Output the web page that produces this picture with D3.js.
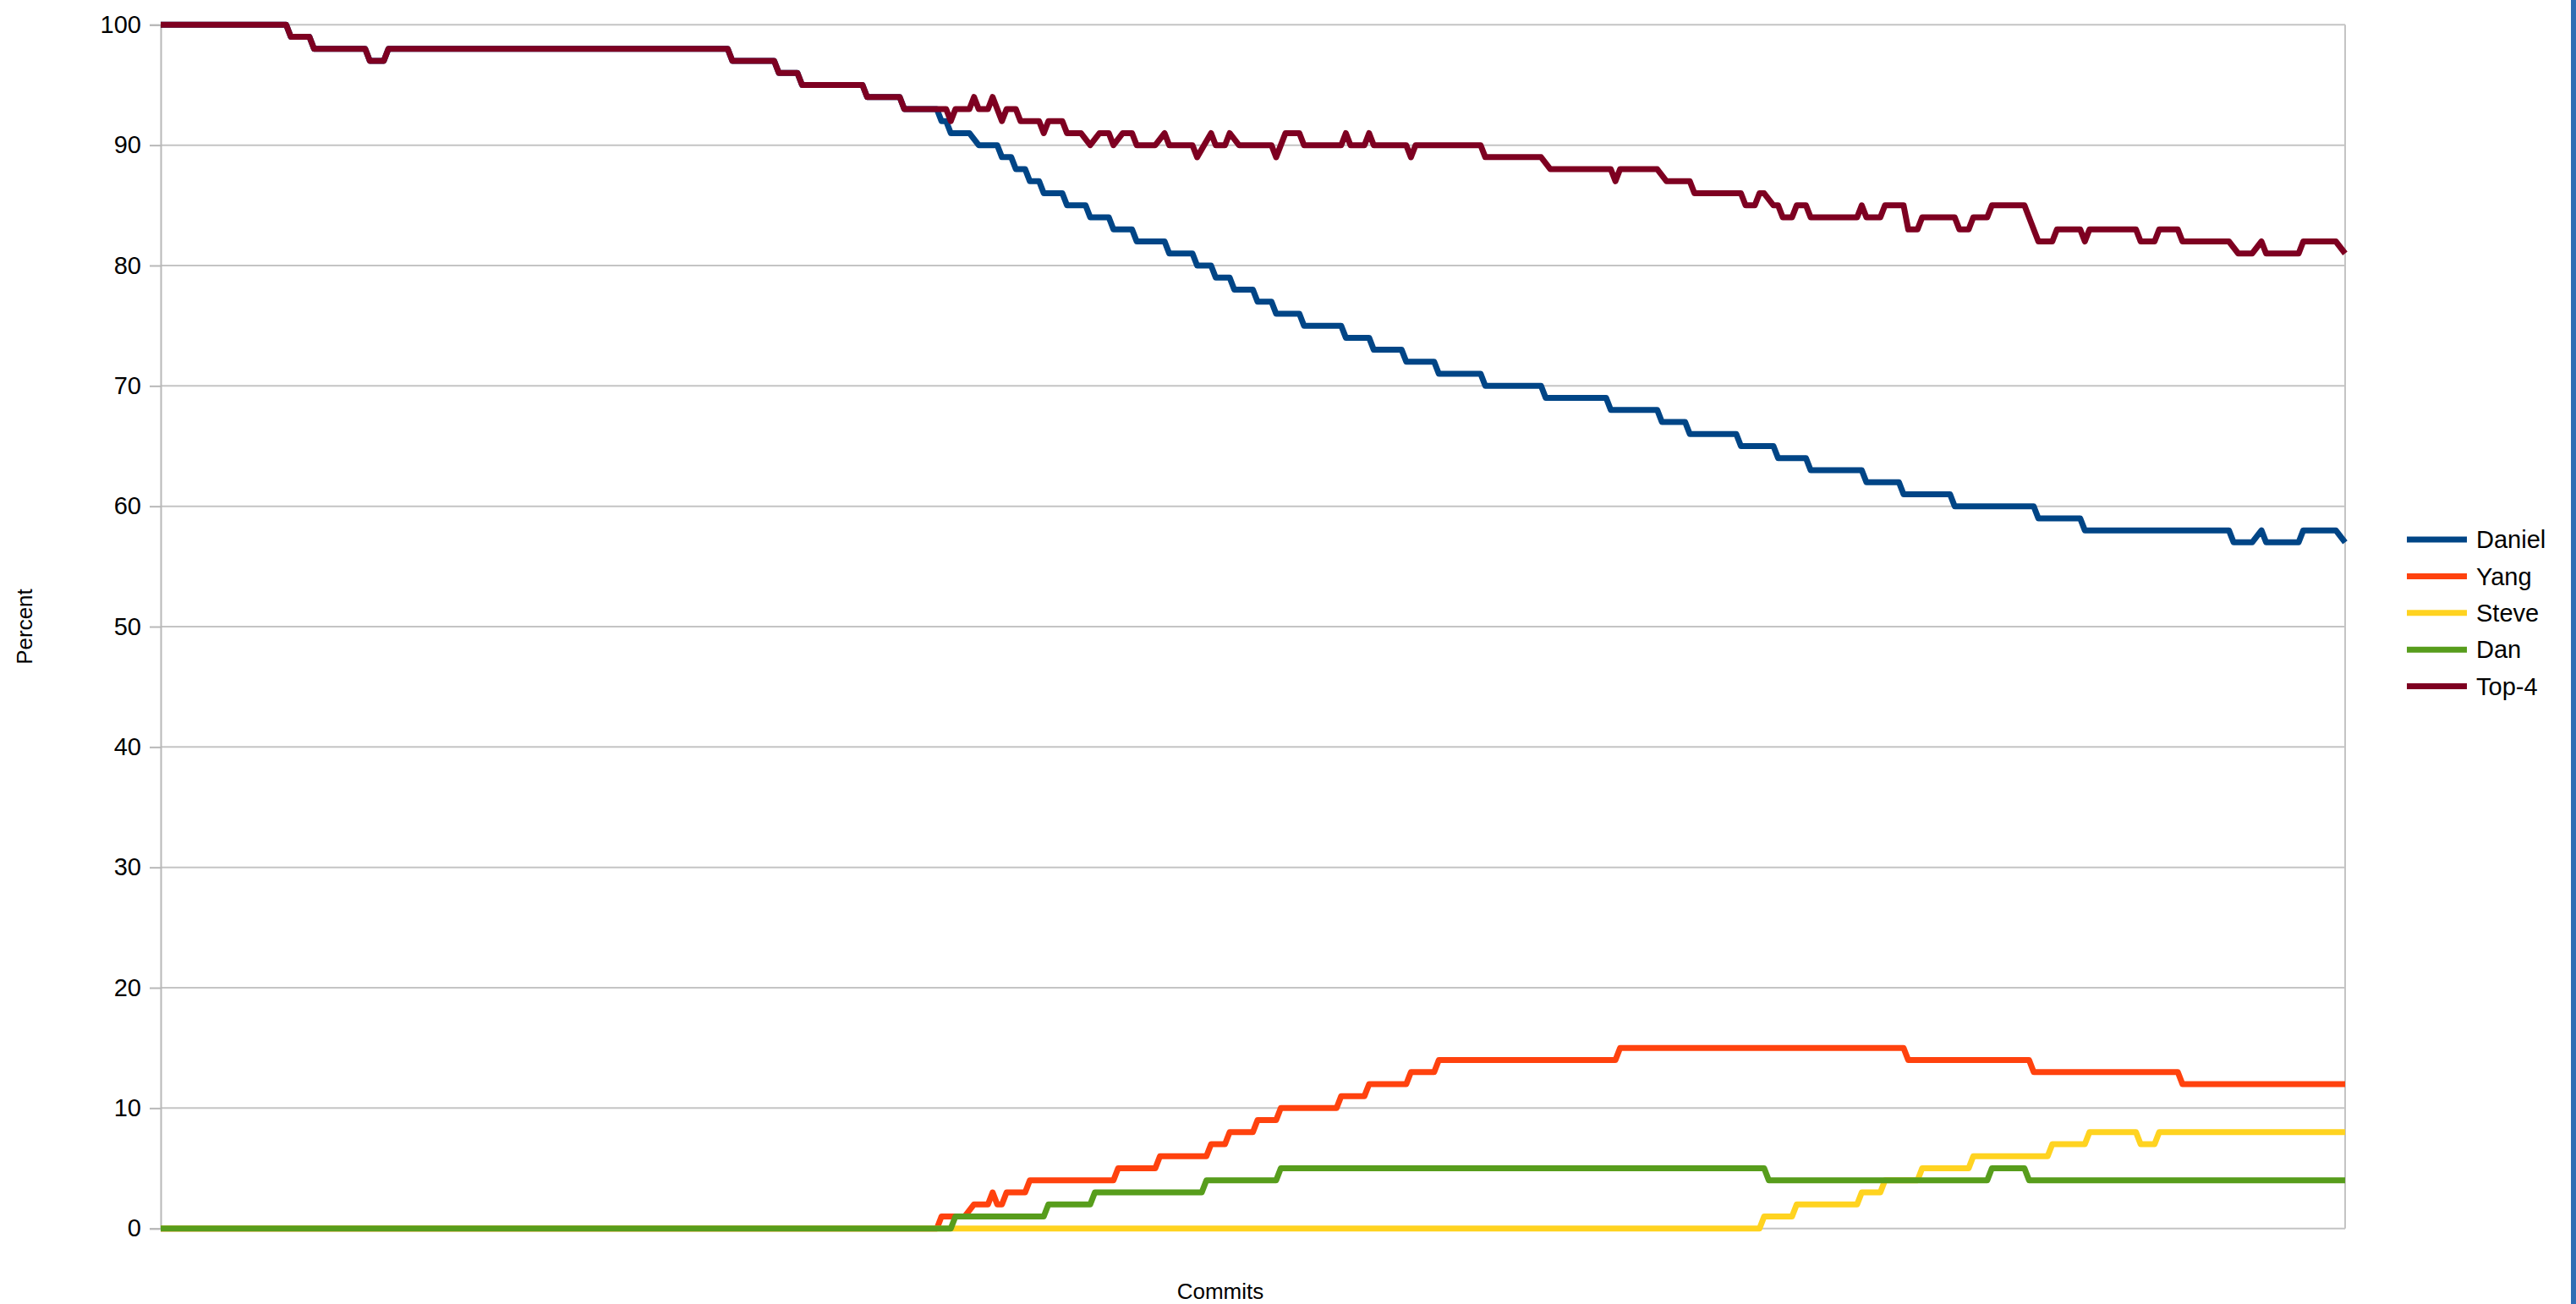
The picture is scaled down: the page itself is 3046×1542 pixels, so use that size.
<!DOCTYPE html>
<html>
<head>
<meta charset="utf-8">
<script src="https://cdn.jsdelivr.net/npm/d3@7"></script>
<style>
  body { margin: 0; background: #fff; }
  svg { display: block; font-family: "Liberation Sans", Arial, sans-serif; }
</style>
</head>
<body>
<svg></svg>
<script>
// commit index, percent (corner points of each step)
const commitCount = 470;
const yTicks = [0, 10, 20, 30, 40, 50, 60, 70, 80, 90, 100];
const seriesNames = ["Daniel", "Yang", "Steve", "Dan", "Top-4"];
const seriesColors = ["#004586", "#ff420e", "#ffd320", "#579d1c", "#7e0021"];

const daniel = [[0,100],[27,100],[28,99],[32,99],[33,98],[44,98],[45,97],[48,97],[49,98],[122,98],[123,97],[132,97],[133,96],[137,96],[138,95],[151,95],[152,94],[159,94],[160,93],[167,93],[168,92],[169,92],[170,91],[174,91],[176,90],[180,90],[181,89],[183,89],[184,88],[186,88],[187,87],[189,87],[190,86],[194,86],[195,85],[199,85],[200,84],[204,84],[205,83],[209,83],[210,82],[216,82],[217,81],[222,81],[223,80],[226,80],[227,79],[230,79],[231,78],[235,78],[236,77],[239,77],[240,76],[245,76],[246,75],[254,75],[255,74],[260,74],[261,73],[267,73],[268,72],[274,72],[275,71],[284,71],[285,70],[297,70],[298,69],[311,69],[312,68],[322,68],[323,67],[328,67],[329,66],[339,66],[340,65],[347,65],[348,64],[354,64],[355,63],[366,63],[367,62],[374,62],[375,61],[385,61],[386,60],[403,60],[404,59],[413,59],[414,58],[445,58],[446,57],[450,57],[452,58],[453,57],[460,57],[461,58],[468,58],[470,57]];

const yang = [[0,0],[167,0],[168,1],[173,1],[175,2],[178,2],[179,3],[180,2],[181,2],[182,3],[186,3],[187,4],[205,4],[206,5],[214,5],[215,6],[225,6],[226,7],[229,7],[230,8],[235,8],[236,9],[240,9],[241,10],[253,10],[254,11],[259,11],[260,12],[268,12],[269,13],[274,13],[275,14],[313,14],[314,15],[375,15],[376,14],[402,14],[403,13],[434,13],[435,12],[470,12]];

const steve = [[0,0],[344,0],[345,1],[351,1],[352,2],[365,2],[366,3],[370,3],[371,4],[378,4],[379,5],[389,5],[390,6],[406,6],[407,7],[414,7],[415,8],[425,8],[426,7],[429,7],[430,8],[470,8]];

const dan = [[0,0],[170,0],[171,1],[190,1],[191,2],[200,2],[201,3],[224,3],[225,4],[240,4],[241,5],[345,5],[346,4],[393,4],[394,5],[401,5],[402,4],[470,4]];

const top4 = [[0,100],[27,100],[28,99],[32,99],[33,98],[44,98],[45,97],[48,97],[49,98],[122,98],[123,97],[132,97],[133,96],[137,96],[138,95],[151,95],[152,94],[159,94],[160,93],[169,93],[170,92],[171,93],[174,93],[175,94],[176,93],[178,93],[179,94],[181,92],[182,93],[184,93],[185,92],[189,92],[190,91],[191,92],[194,92],[195,91],[198,91],[200,90],[202,91],[204,91],[205,90],[207,91],[209,91],[210,90],[214,90],[216,91],[217,90],[222,90],[223,89],[226,91],[227,90],[229,90],[230,91],[232,90],[239,90],[240,89],[242,91],[245,91],[246,90],[254,90],[255,91],[256,90],[259,90],[260,91],[261,90],[268,90],[269,89],[270,90],[284,90],[285,89],[297,89],[299,88],[312,88],[313,87],[314,88],[322,88],[324,87],[329,87],[330,86],[340,86],[341,85],[343,85],[344,86],[345,86],[347,85],[348,85],[349,84],[351,84],[352,85],[354,85],[355,84],[365,84],[366,85],[367,84],[370,84],[371,85],[375,85],[376,83],[378,83],[379,84],[386,84],[387,83],[389,83],[390,84],[393,84],[394,85],[401,85],[404,82],[407,82],[408,83],[413,83],[414,82],[415,83],[425,83],[426,82],[429,82],[430,83],[434,83],[435,82],[445,82],[447,81],[450,81],[452,82],[453,81],[460,81],[461,82],[468,82],[470,81]];

const seriesData = [daniel, yang, steve, dan, top4];

const W = 3046, H = 1542;
const margin = { top: 29.3, right: 273, bottom: 89.3, left: 190 };
const width = W - margin.left - margin.right;
const height = H - margin.top - margin.bottom;

const root = d3.select("svg").attr("width", W).attr("height", H);
const svg = root.append("g").attr("transform", `translate(${margin.left},${margin.top})`);

const x = d3.scaleLinear().domain([0, commitCount]).range([0, width]);
const y = d3.scaleLinear().domain([0, 100]).range([height, 0]);

// grid lines
svg.append("g")
  .selectAll("line")
  .data(yTicks)
  .join("line")
  .attr("x1", 0).attr("x2", width)
  .attr("y1", d => y(d)).attr("y2", d => y(d))
  .attr("stroke", "#c4c4c4")
  .attr("stroke-width", 2);

// y axis with outward ticks
const yAxis = svg.append("g")
  .call(d3.axisLeft(y).tickValues(yTicks).tickSize(13).tickPadding(10));
yAxis.select(".domain").attr("stroke", "#b8b8b8").attr("stroke-width", 2);
yAxis.selectAll(".tick line").attr("stroke", "#b8b8b8").attr("stroke-width", 2);
yAxis.selectAll(".tick text")
  .attr("fill", "#000")
  .style("font-size", "29px")
  .style("font-family", "'Liberation Sans', Arial, sans-serif");

// right border
svg.append("line")
  .attr("x1", width).attr("x2", width)
  .attr("y1", 0).attr("y2", height)
  .attr("stroke", "#c4c4c4")
  .attr("stroke-width", 2);

const line = d3.line()
  .x(d => x(d[0]))
  .y(d => y(d[1]));

svg.selectAll(".series")
  .data(seriesData)
  .join("path")
  .attr("class", "series")
  .attr("fill", "none")
  .attr("stroke", (d, i) => seriesColors[i])
  .attr("stroke-width", 7)
  .attr("stroke-linejoin", "round")
  .attr("d", line);

// axis titles
root.append("text")
  .attr("transform", `translate(38,${margin.top + height / 2}) rotate(-90)`)
  .attr("text-anchor", "middle")
  .style("font-size", "26px")
  .text("Percent");

root.append("text")
  .attr("x", 1443)
  .attr("y", 1536)
  .attr("text-anchor", "middle")
  .style("font-size", "26px")
  .text("Commits");

// legend
const legend = root.append("g").attr("transform", "translate(2846,638)");
const items = legend.selectAll("g")
  .data(seriesNames)
  .join("g")
  .attr("transform", (d, i) => `translate(0,${i * 43.4})`);
items.append("line")
  .attr("x1", 0).attr("x2", 71)
  .attr("stroke", (d, i) => seriesColors[i])
  .attr("stroke-width", 7);
items.append("text")
  .attr("x", 82)
  .attr("dy", "0.35em")
  .style("font-size", "29px")
  .text(d => d);

// window edge strip
root.append("rect")
  .attr("x", 3040).attr("y", 0)
  .attr("width", 6).attr("height", H)
  .attr("fill", "#2e6db4");
</script>
</body>
</html>
